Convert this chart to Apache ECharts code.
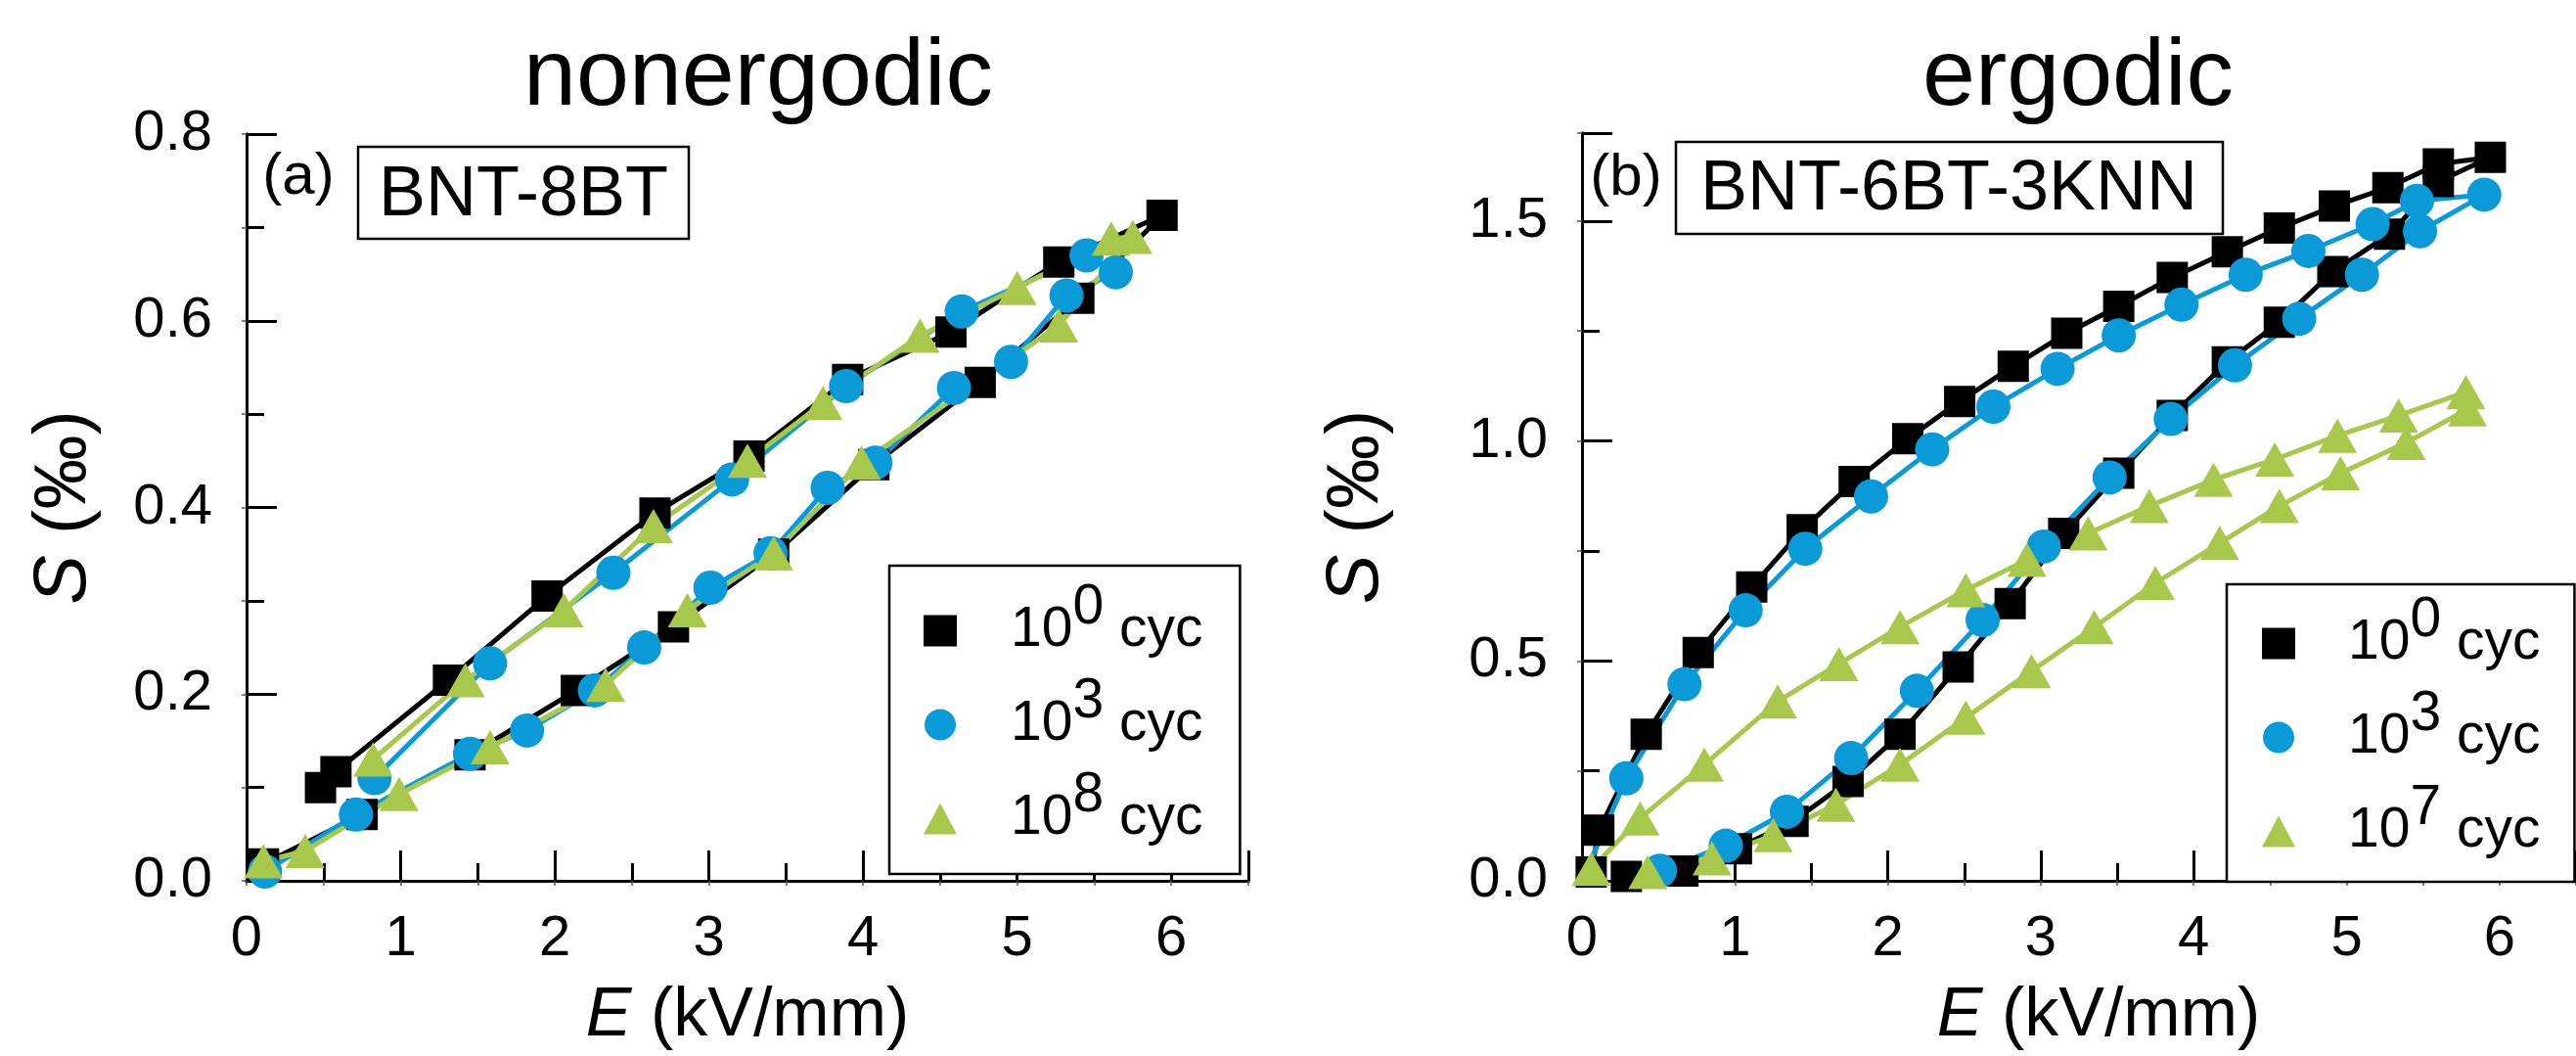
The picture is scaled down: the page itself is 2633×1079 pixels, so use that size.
<!DOCTYPE html>
<html>
<head>
<meta charset="utf-8">
<script src="https://cdn.jsdelivr.net/npm/echarts@6/dist/echarts.min.js"></script>
<style>
  html, body { margin: 0; padding: 0; background: #fff; }
  #chart { width: 2633px; height: 1079px; }
</style>
</head>
<body>
<div id="chart"></div>
<script>
  // (a) BNT-8BT, nonergodic — E in kV/mm, S in per mille
  const a0E = [0.11, 0.75, 1.45, 2.14, 2.77, 3.42, 4.07, 4.76, 5.40, 5.94, 5.27, 4.57, 3.90, 3.26, 2.65, 1.95, 1.31, 0.58, 0.48]
  const a0S = [0.018, 0.071, 0.135, 0.204, 0.272, 0.350, 0.446, 0.534, 0.624, 0.713, 0.663, 0.588, 0.537, 0.455, 0.394, 0.305, 0.215, 0.117, 0.100]
  const a3E = [0.12, 0.71, 1.45, 1.82, 2.26, 2.58, 3.01, 3.40, 3.77, 4.08, 4.59, 4.96, 5.32, 5.64, 5.45, 4.64, 3.89, 3.15, 2.38, 1.58, 0.83]
  const a3S = [0.010, 0.071, 0.136, 0.161, 0.204, 0.250, 0.314, 0.351, 0.421, 0.448, 0.528, 0.556, 0.627, 0.652, 0.670, 0.610, 0.530, 0.430, 0.330, 0.233, 0.110]
  const a8E = [0.11, 0.38, 0.99, 1.58, 2.33, 2.86, 3.42, 3.99, 5.27, 5.75, 5.61, 5.00, 4.37, 3.74, 3.25, 2.64, 2.06, 1.42, 0.82]
  const a8S = [0.021, 0.032, 0.093, 0.143, 0.210, 0.290, 0.351, 0.448, 0.595, 0.690, 0.688, 0.635, 0.584, 0.512, 0.450, 0.380, 0.290, 0.215, 0.130]

  // (b) BNT-6BT-3KNN, ergodic
  const b0E = [0.06, 0.11, 0.42, 0.76, 1.11, 1.44, 1.78, 2.13, 2.47, 2.82, 3.17, 3.51, 3.86, 4.22, 4.56, 4.92, 5.27, 5.60, 5.94,
    5.60, 5.28, 4.91, 4.56, 4.22, 3.86, 3.51, 3.15, 2.80, 2.46, 2.08, 1.74, 1.38, 1.01, 0.66, 0.29]
  const b0S = [0.020, 0.115, 0.333, 0.519, 0.668, 0.798, 0.908, 1.005, 1.090, 1.170, 1.245, 1.306, 1.372, 1.430, 1.484, 1.534, 1.576, 1.630, 1.645,
    1.590, 1.470, 1.385, 1.270, 1.180, 1.058, 0.927, 0.790, 0.630, 0.486, 0.333, 0.226, 0.135, 0.073, 0.022, 0.010]
  const b3E = [0.00, 0.29, 0.67, 1.07, 1.46, 1.89, 2.29, 2.69, 3.11, 3.51, 3.92, 4.34, 4.75, 5.17, 5.46, 5.90,
    5.48, 5.10, 4.69, 4.27, 3.85, 3.45, 3.02, 2.62, 2.19, 1.76, 1.34, 0.94, 0.51]
  const b3S = [0.000, 0.233, 0.447, 0.615, 0.755, 0.874, 0.981, 1.078, 1.164, 1.240, 1.310, 1.378, 1.432, 1.493, 1.546, 1.560,
    1.477, 1.378, 1.278, 1.172, 1.050, 0.917, 0.760, 0.593, 0.432, 0.279, 0.157, 0.080, 0.023]
  const b7E = [0.06, 0.38, 0.80, 1.28, 1.68, 2.08, 2.51, 2.91, 3.31, 3.71, 4.13, 4.53, 4.94, 5.34, 5.78,
    5.79, 5.39, 4.96, 4.56, 4.17, 3.75, 3.35, 2.94, 2.51, 2.08, 1.66, 1.25, 0.85, 0.43]
  const b7S = [0.027, 0.142, 0.264, 0.408, 0.493, 0.577, 0.661, 0.730, 0.790, 0.852, 0.912, 0.958, 1.012, 1.058, 1.111,
    1.072, 0.996, 0.927, 0.852, 0.768, 0.677, 0.577, 0.477, 0.371, 0.264, 0.173, 0.104, 0.051, 0.020]

  const xTicks = [0, 1, 2, 3, 4, 5, 6]
  const aYTicks = [0.0, 0.2, 0.4, 0.6, 0.8]
  const bYTicks = [0.0, 0.5, 1.0, 1.5]

  const FONT = "'Liberation Sans', Arial, Helvetica, sans-serif"
  const BLACK = '#000000'
  const BLUE = '#0b9ad8'
  const GREEN = '#a8c84c'

  const chart = echarts.init(document.getElementById('chart'), null, { renderer: 'canvas' })

  const pairs = (xs, ys) => xs.map((x, i) => [x, ys[i]])
  const bare = (pts) => pts.map((p, i) => (i === 0 ? { value: p, symbol: 'none' } : p))

  const makeSeries = (name, data, color, symbol, size, gi) => ({
    name,
    type: 'line',
    xAxisIndex: gi * 2,
    yAxisIndex: gi * 2,
    data,
    symbol,
    symbolSize: size,
    showAllSymbol: true,
    color,
    itemStyle: { color },
    lineStyle: { color, width: 5 },
    emphasis: { disabled: true },
    clip: false
  })

  const mainAxis = (extra) => ({
    axisLine: { show: true, lineStyle: { color: BLACK, width: 3 } },
    axisTick: { show: true, inside: true, length: 31, lineStyle: { color: BLACK, width: 3 } },
    minorTick: { show: true, splitNumber: 2, length: 18, lineStyle: { color: BLACK, width: 3 } },
    splitLine: { show: false },
    ...extra
  })
  const mirrorAxis = (extra) => ({
    axisLine: { show: true, lineStyle: { color: BLACK, width: 3 } },
    axisTick: { show: true, inside: true, length: 5, lineStyle: { color: '#555', width: 1.5 } },
    minorTick: { show: true, splitNumber: 2, length: 5, lineStyle: { color: '#555', width: 1.5 } },
    axisLabel: { show: false },
    splitLine: { show: false },
    ...extra
  })

  const xLabel = {
    color: BLACK, fontSize: 58, fontFamily: FONT, margin: 31, showMaxLabel: false,
    formatter: (v) => (xTicks.includes(v) ? String(v) : '')
  }
  const yLabel = (ticks) => ({
    color: BLACK, fontSize: 58, fontFamily: FONT, margin: 35, showMaxLabel: ticks.includes(0.8),
    formatter: (v) => (ticks.some((t) => Math.abs(t - v) < 1e-9) ? v.toFixed(1) : '')
  })
  const nameStyle = (size, pad) => ({
    fontSize: size, fontFamily: FONT, color: BLACK, padding: pad,
    rich: { i: { fontSize: size, fontFamily: FONT, fontStyle: 'italic', color: BLACK } }
  })

  const sup = { a0: '0', a3: '3', a8: '8', b0: '0', b3: '3', b7: '7' }
  const legendOpt = (names, left, top, padding, lead) => ({
    orient: 'vertical',
    left, top, padding,
    itemGap: -7,
    itemWidth: 34,
    itemHeight: 32,
    borderColor: BLACK,
    borderWidth: 2.5,
    backgroundColor: '#fff',
    selectedMode: false,
    data: names.map((n, i) => ({ name: n, icon: ['rect', 'circle', 'triangle'][i] })),
    formatter: (n) => `{p|10}{s|${sup[n]}}{d| cyc}`,
    textStyle: {
      color: BLACK, fontSize: 57, fontFamily: FONT,
      rich: {
        p: { fontSize: 57, fontFamily: FONT, color: BLACK, lineHeight: 60, padding: [0, 0, 0, lead], verticalAlign: 'middle' },
        s: { fontSize: 57, fontFamily: FONT, color: BLACK, lineHeight: 60, padding: [0, 0, 46, 0], verticalAlign: 'middle' },
        d: { fontSize: 57, fontFamily: FONT, color: BLACK, lineHeight: 60, verticalAlign: 'middle' }
      }
    }
  })

  const option = {
    animation: false,
    backgroundColor: '#fff',
    grid: [
      { left: 252, top: 137, width: 1024, height: 767 },
      { left: 1617, top: 136, width: 1021, height: 767 }
    ],
    xAxis: [
      mainAxis({ gridIndex: 0, type: 'value', min: 0, max: 6.5, interval: 1, axisLabel: xLabel,
        name: '{i|E} (kV/mm)', nameLocation: 'middle', nameGap: 104, nameTextStyle: nameStyle(70, [0, 0, 0, 0]) }),
      mirrorAxis({ gridIndex: 0, type: 'value', position: 'top', min: 0, max: 6.5, interval: 1 }),
      mainAxis({ gridIndex: 1, type: 'value', min: 0, max: 6.5, interval: 1, axisLabel: xLabel,
        name: '{i|E} (kV/mm)', nameLocation: 'middle', nameGap: 104, nameTextStyle: nameStyle(70, [0, 0, 0, 40]) }),
      mirrorAxis({ gridIndex: 1, type: 'value', position: 'top', min: 0, max: 6.5, interval: 1 })
    ],
    yAxis: [
      mainAxis({ gridIndex: 0, type: 'value', min: 0, max: 0.8, interval: 0.2, axisLabel: yLabel(aYTicks),
        name: '{i|S} (‰)', nameLocation: 'middle', nameGap: 148, nameTextStyle: nameStyle(76, [0, 0, 0, 0]) }),
      mirrorAxis({ gridIndex: 0, type: 'value', position: 'right', min: 0, max: 0.8, interval: 0.2 }),
      mainAxis({ gridIndex: 1, type: 'value', min: 0, max: 1.7, interval: 0.5, axisLabel: yLabel(bYTicks),
        name: '{i|S} (‰)', nameLocation: 'middle', nameGap: 192, nameTextStyle: nameStyle(76, [0, 0, 0, 0]) }),
      mirrorAxis({ gridIndex: 1, type: 'value', position: 'right', min: 0, max: 1.7, interval: 0.5 })
    ],
    legend: [
      legendOpt(['a0', 'a3', 'a8'], 909, 578, [15, 38, 5, 35], 50),
      legendOpt(['b0', 'b3', 'b7'], 2276, 597, [9, 35, 0, 36], 49)
    ],
    series: [
      makeSeries('a0', pairs(a0E, a0S), BLACK, 'rect', 32, 0),
      makeSeries('a3', pairs(a3E, a3S), BLUE, 'circle', 35, 0),
      makeSeries('a8', pairs(a8E, a8S), GREEN, 'triangle', [40, 35], 0),
      makeSeries('b0', pairs(b0E, b0S), BLACK, 'rect', 32, 1),
      makeSeries('b3', bare(pairs(b3E, b3S)), BLUE, 'circle', 35, 1),
      makeSeries('b7', pairs(b7E, b7S), GREEN, 'triangle', [40, 35], 1)
    ],
    graphic: [
      { type: 'text', z: 20, x: 775, y: 80, style: { text: 'nonergodic', font: `97px ${FONT}`, fill: BLACK, align: 'center', verticalAlign: 'middle' } },
      { type: 'text', z: 20, x: 2124, y: 80, style: { text: 'ergodic', font: `97px ${FONT}`, fill: BLACK, align: 'center', verticalAlign: 'middle' } },
      { type: 'text', z: 20, x: 305, y: 181, style: { text: '(a)', font: `60px ${FONT}`, fill: BLACK, align: 'center', verticalAlign: 'middle' } },
      { type: 'rect', z: 20, shape: { x: 366, y: 150, width: 338, height: 94 }, style: { fill: '#fff', stroke: BLACK, lineWidth: 2.5 } },
      { type: 'text', z: 21, x: 535, y: 200, style: { text: 'BNT-8BT', font: `72px ${FONT}`, fill: BLACK, align: 'center', verticalAlign: 'middle' } },
      { type: 'text', z: 20, x: 1662, y: 182, style: { text: '(b)', font: `60px ${FONT}`, fill: BLACK, align: 'center', verticalAlign: 'middle' } },
      { type: 'rect', z: 20, shape: { x: 1713, y: 145, width: 559, height: 94 }, style: { fill: '#fff', stroke: BLACK, lineWidth: 2.5 } },
      { type: 'text', z: 21, x: 1992, y: 194, style: { text: 'BNT-6BT-3KNN', font: `72px ${FONT}`, fill: BLACK, align: 'center', verticalAlign: 'middle' } }
    ]
  }

  chart.setOption(option, true)
</script>
</body>
</html>
